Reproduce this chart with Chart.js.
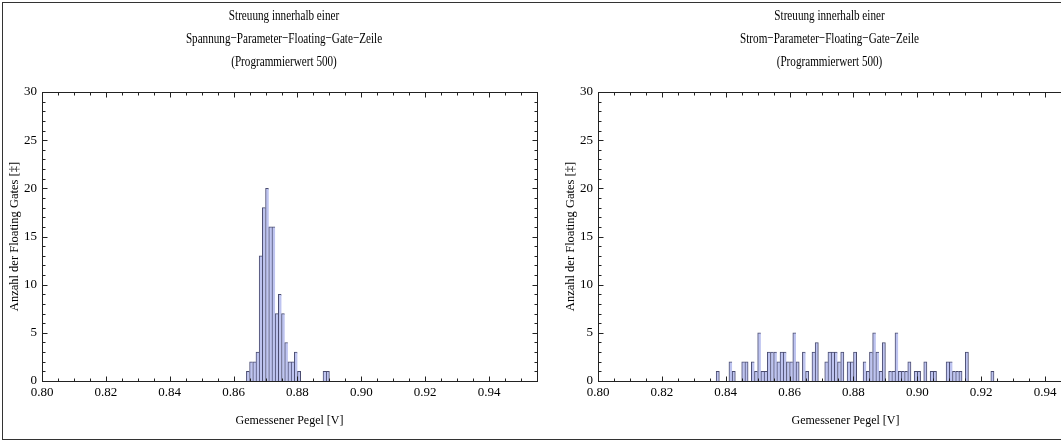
<!DOCTYPE html>
<html>
<head>
<meta charset="utf-8">
<script src="https://cdn.jsdelivr.net/npm/chart.js@4"></script>
<style>
  html, body { margin: 0; padding: 0; background: #fff; }
  body { width: 1061px; height: 441px; overflow: hidden; position: relative; }
  #border { position: absolute; left: 2px; top: 2px; width: 1100px; height: 438px;
            box-sizing: border-box; border: 1px solid #333; }
  canvas { position: absolute; top: 0; }
  #left { left: 0; }
  #right { left: 556px; }
</style>
</head>
<body>
<div id="border"></div>
<canvas id="left" width="568" height="441"></canvas>
<canvas id="right" width="568" height="441"></canvas>
<script>
// Tick values (bottom labels and left labels)
const xTickValues = [0.80, 0.82, 0.84, 0.86, 0.88, 0.90, 0.92, 0.94];
const yTickValues = [0, 5, 10, 15, 20, 25, 30];
const binWidth = 0.001;

// Spannung-Parameter row: bin start and count
const spannungBins = [0.864, 0.865, 0.866, 0.867, 0.868, 0.869, 0.870, 0.871, 0.872, 0.873,
  0.874, 0.875, 0.876, 0.877, 0.878, 0.879, 0.880, 0.888, 0.889];
const spannungCounts = [1, 2, 2, 3, 13, 18, 20, 16, 16, 7, 9, 7, 4, 2, 2, 3, 1, 1, 1];

// Strom-Parameter row: bin start and count
const stromBins = [0.837, 0.841, 0.842, 0.845, 0.846, 0.848, 0.849, 0.850, 0.851, 0.852,
  0.853, 0.854, 0.855, 0.856, 0.857, 0.858, 0.859, 0.860, 0.861, 0.862,
  0.864, 0.865, 0.867, 0.868, 0.871, 0.872, 0.873, 0.874, 0.875, 0.876,
  0.878, 0.879, 0.880, 0.883, 0.884, 0.885, 0.886, 0.887, 0.888, 0.889,
  0.891, 0.892, 0.893, 0.894, 0.895, 0.896, 0.897, 0.899, 0.900, 0.902,
  0.904, 0.905, 0.909, 0.910, 0.911, 0.912, 0.913, 0.915, 0.923];
const stromCounts = [1, 2, 1, 2, 2, 2, 1, 5, 1, 1,
  3, 3, 3, 2, 3, 3, 2, 2, 5, 2,
  3, 1, 3, 4, 2, 3, 3, 3, 2, 3,
  2, 2, 3, 2, 1, 3, 5, 3, 1, 4,
  1, 1, 5, 1, 1, 1, 2, 1, 1, 2,
  1, 1, 2, 2, 1, 1, 1, 3, 1];

const serif = "'Liberation Serif', 'DejaVu Serif', serif";

// frame with inward ticks on all four sides (Mathematica style)
const framePlugin = {
  id: 'frame',
  afterDatasetsDraw(chart) {
    const { ctx, chartArea: a, scales: { x, y } } = chart;
    const L = Math.round(a.left) + 0.5, R = Math.round(a.right) + 0.5;
    const T = Math.round(a.top) + 0.5, B = Math.round(a.bottom) + 0.5;
    ctx.save();
    ctx.strokeStyle = '#222';
    ctx.lineWidth = 1;
    ctx.beginPath();
    for (let k = 0; k <= 31; k++) {
      const v = 0.80 + k * 0.005;
      if (v > x.max + 1e-9) break;
      const px = Math.round(x.getPixelForValue(v)) + 0.5;
      const len = k % 4 === 0 ? 5 : 3;
      ctx.moveTo(px, B); ctx.lineTo(px, B - len);
      ctx.moveTo(px, T); ctx.lineTo(px, T + len);
    }
    for (let v = 0; v <= 30; v++) {
      const py = Math.round(y.getPixelForValue(v)) + 0.5;
      const len = v % 5 === 0 ? 5 : 3;
      ctx.moveTo(L, py); ctx.lineTo(L + len, py);
      ctx.moveTo(R, py); ctx.lineTo(R - len, py);
    }
    ctx.stroke();
    ctx.strokeRect(L, T, R - L, B - T);
    ctx.restore();
  }
};

// three-line title, drawn a bit condensed like the original export
const titlePlugin = {
  id: 'condensedTitle',
  afterDraw(chart, args, opts) {
    const ctx = chart.ctx;
    ctx.save();
    ctx.font = opts.size + 'px ' + serif;
    ctx.fillStyle = '#000';
    ctx.textAlign = 'center';
    ctx.textBaseline = 'middle';
    opts.lines.forEach((t, i) => {
      ctx.save();
      ctx.translate(opts.x, opts.y0 + i * opts.lineHeight);
      ctx.scale(opts.scaleX, 1);
      ctx.fillText(t, 0, 0);
      ctx.restore();
    });
    ctx.restore();
  }
};

function makeChart(id, titleLines, titleX, bins, counts) {
  const data = bins.map((b, i) => ({ x: b + binWidth / 2, y: counts[i] }));
  // bars share their edge with a filled neighbour, so only draw the right edge when it is free
  const edges = bins.map((b, i) => {
    const next = bins[i + 1];
    const shared = next !== undefined && Math.abs(next - b - binWidth) < 1e-6;
    return { top: 1, left: 1, right: shared ? 0 : 1, bottom: 0 };
  });
  return new Chart(document.getElementById(id), {
    type: 'bar',
    data: {
      datasets: [{
        data: data,
        backgroundColor: 'rgb(190, 196, 240)',
        borderColor: 'rgb(74, 76, 112)',
        borderWidth: ctx => edges[ctx.dataIndex] || 1,
        borderSkipped: 'bottom',
        categoryPercentage: 1,
        barPercentage: 1
      }]
    },
    options: {
      responsive: false,
      animation: false,
      devicePixelRatio: 1,
      layout: { padding: { left: 0, right: 31, top: 92, bottom: 0 } },
      plugins: {
        legend: { display: false },
        tooltip: { enabled: false },
        title: { display: false },
        condensedTitle: {
          lines: titleLines, x: titleX, y0: 16, lineHeight: 23, size: 15.5, scaleX: 0.72
        }
      },
      scales: {
        x: {
          type: 'linear',
          min: 0.80,
          max: 0.955,
          offset: false,
          grid: { display: false, drawTicks: false, offset: false },
          border: { display: false },
          afterBuildTicks: s => { s.ticks = xTickValues.map(v => ({ value: v })); },
          afterFit: s => { s.height = 60; },
          ticks: {
            color: '#000',
            padding: 4,
            maxRotation: 0,
            autoSkip: false,
            font: { family: serif, size: 13 },
            callback: v => Number(v).toFixed(2)
          },
          title: {
            display: true,
            text: 'Gemessener Pegel [V]',
            color: '#000',
            font: { family: serif, size: 12 },
            padding: { top: 0, bottom: 12.8 }
          }
        },
        y: {
          min: 0,
          max: 30,
          grid: { display: false, drawTicks: false },
          border: { display: false },
          afterBuildTicks: s => { s.ticks = yTickValues.map(v => ({ value: v })); },
          afterFit: s => { s.width = 42; },
          ticks: {
            color: '#000',
            padding: 5,
            font: { family: serif, size: 13 }
          },
          title: {
            display: true,
            text: 'Anzahl der Floating Gates [‡]',
            color: '#000',
            font: { family: serif, size: 12.5 },
            padding: { top: 7.5, bottom: 0 }
          }
        }
      }
    },
    plugins: [framePlugin, titlePlugin]
  });
}

makeChart('left',
  ['Streuung innerhalb einer', 'Spannung\u2212Parameter\u2212Floating\u2212Gate\u2212Zeile', '(Programmierwert 500)'],
  284, spannungBins, spannungCounts);
makeChart('right',
  ['Streuung innerhalb einer', 'Strom\u2212Parameter\u2212Floating\u2212Gate\u2212Zeile', '(Programmierwert 500)'],
  273.5, stromBins, stromCounts);
</script>
</body>
</html>
